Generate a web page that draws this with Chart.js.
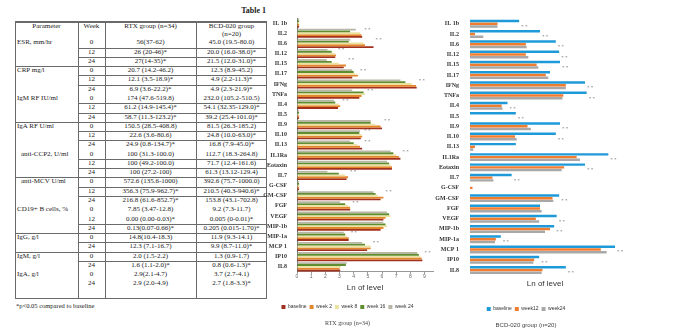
<!DOCTYPE html>
<html>
<head>
<meta charset="utf-8">
<script src="https://cdn.jsdelivr.net/npm/chart.js@4.4.1/dist/chart.umd.min.js"></script>
<style>
body { margin:0; width:684px; height:329px; background:#fff; position:relative; overflow:hidden; font-family:"Liberation Serif", serif; color:#1a1a1a; }
#tblTitle { position:absolute; left:228px; top:6px; width:38px; text-align:right; font-size:8px; font-weight:bold; }
#tbl { position:absolute; left:15px; top:21px; width:252px; height:278px; font-size:7px; }
#tbl .c { position:absolute; white-space:nowrap; text-align:center; }
#tbl .ln { position:absolute; background:#6a6a6a; }
#note { position:absolute; left:16px; top:302px; font-size:6.5px; }
canvas { position:absolute; }
#rtx { left:262px; top:12px; }
#bcd { left:432px; top:12px; }
</style>
</head>
<body>
<div id="tblTitle">Table 1</div>
<div id="tbl"></div>
<div id="note">*p&lt;0.05 compared to baseline</div>
<canvas id="rtx" width="191" height="317"></canvas>
<canvas id="bcd" width="204" height="317"></canvas>
<script>
// table 1
var tableParams = ["ESR, mm/hr","","","CRP mg/l","","","IgM RF IU/ml","","","IgA RF U/ml","","",
  "anti-CCP2, U/ml","","","anti-MCV U/ml","","","CD19+ B cells, %","","","IgG, g/l","","IgM, g/l","","IgA, g/l",""];
var tableWeeks = ["0","12","24","0","12","24","0","12","24","0","12","24","0","12","24","0","12","24","0","12","24","0","24","0","24","0","24"];
var tableRtx = ["56(37-62)","26 (20-46)*","27(14-35)*","20.7 (14.2-46.2)","12.1 (3.5-18.9)*","6.9 (3.6-22.2)*",
  "174 (47.6-519.8)","61.2 (14.9-145.4)*","58.7 (11.3-123.2)*","150.5 (28.5-408.8)","22.6 (3.6-80.6)","24.9 (0.8-134.7)*",
  "100 (31.3-100.0)","100 (49.2-100.0)","100 (27.2-100)","572.6 (135.6-1000)","356.3 (75.9-962.7)*","216.8 (61.6-852.7)*",
  "7.85 (3.47-12.8)","0.00 (0.00-0.03)*","0.13(0.07-0.66)*","14.8(10.4-18.3)","12.3 (7.1-16.7)","2.0 (1.5-2.2)","1.6 (1.1-2.0)*",
  "2.9(2.1-4.7)","2.9 (2.0-4.9)"];
var tableBcd = ["45.0 (19.5-80.0)","20.0 (16.0-38.0)*","21.5 (12.0-31.0)*","12.3 (8.9-45.2)","4.9 (2.2-11.3)*","4.9 (2.3-21.9)*",
  "232.0 (105.2-510.5)","54.1 (32.35-129.0)*","39.2 (25.4-101.0)*","81.5 (26.3-185.2)","24.8 (10.0-63.0)*","16.8 (7.9-45.0)*",
  "112.7 (18.3-264.8)","71.7 (12.4-161.6)","61.3 (13.12-129.4)","392.6 (75.7-1000.0)","210.5 (40.3-940.6)*","153.8 (43.1-702.8)",
  "9.2 (7.3-11.7)","0.005 (0-0.01)*","0.205 (0.015-1.70)*","11.9 (9.3-14.1)","9.9 (8.7-11.0)*","1.3 (0.9-1.7)","0.8 (0.6-1.3)*",
  "3.7 (2.7-4.1)","2.7 (1.8-3.3)*"];

// cytokine charts
var cytokines = ["IL 1b","IL2","IL6","IL12","IL15","IL17","IFNg","TNFa","IL4","IL5","IL9","IL10","IL13","IL1Ra","Eotaxin",
  "IL7","G-CSF","GM-CSF","FGF","VEGF","MIP-1b","MIP-1a","MCP 1","IP10","IL8"];

var rtxBaseline = [0.15,4.6,5.4,2.7,3.3,3.9,8.45,4.4,2.9,0.15,6.0,4.5,4.6,7.3,6.7,3.5,0.15,5.9,3.75,6.1,5.9,3.65,4.95,8.85,3.05];
var rtxWeek2    = [0.15,4.55,4.8,2.75,3.45,4.3,8.4,4.55,3.05,0.15,5.9,4.6,4.45,7.2,6.7,3.6,0.15,6.1,3.75,6.25,6.1,3.65,5.2,8.8,3.0];
var rtxWeek8    = [0.15,4.45,4.7,2.65,2.95,4.1,8.1,4.8,2.95,0.15,5.5,4.55,4.25,7.0,6.6,3.4,0.15,5.7,3.6,6.6,6.35,3.5,5.2,8.7,3.1];
var rtxWeek16   = [0.15,3.75,3.65,2.45,2.45,4.0,7.65,4.7,2.7,0.15,5.2,4.4,4.0,6.8,6.5,2.95,0.15,5.55,3.4,6.5,6.25,3.4,4.8,8.6,3.45];
var rtxWeek24   = [0.15,4.15,3.75,2.15,2.1,3.9,7.3,3.9,2.6,0.15,5.2,4.45,3.75,6.6,6.35,2.15,0.15,5.4,3.05,6.35,6.1,3.3,4.6,8.5,3.5];
var rtxStarRows = [1,2,3,4,5,6,7,8,10,11,12,13,15,17,18,21,22,23];

var bcdBaseline = [2.95,4.2,5.15,5.35,5.4,4.8,6.9,7.0,2.25,2.75,5.4,5.15,2.75,8.3,6.9,2.5,0,5.35,4.2,5.2,5.05,1.85,8.7,4.15,5.75];
var bcdWeek12   = [1.65,0.3,3.35,3.35,4.0,4.55,5.75,5.6,1.9,0,3.45,2.7,0.3,6.4,5.65,1.35,0.15,4.95,4.2,3.95,4.8,1.55,7.85,3.85,4.35];
var bcdWeek24   = [1.65,0.8,3.4,3.5,4.1,4.7,5.75,5.55,1.95,0,3.65,2.8,0.2,6.6,5.5,1.4,0,5.0,4.3,4.15,4.5,1.5,8.2,3.8,4.3];
var bcdStarRows = [0,1,2,3,4,6,7,8,9,10,11,13,14,15,17,19,20,21,22,23,24];

// build the table
var tbl = document.getElementById("tbl");
var colX = [0, 63, 90, 181, 252];
var headH = 17.4, rowH = 9.27;
var fullLines = [3, 9, 15, 21, 23];
var noLines = [0, 6, 12, 18, 19, 25, 26];

function addLine(x, y, w, h) {
  var d = document.createElement("div");
  d.className = "ln";
  d.style.left = x + "px"; d.style.top = y + "px";
  d.style.width = w + "px"; d.style.height = h + "px";
  tbl.appendChild(d);
}
function addText(txt, col, y, h, left) {
  var d = document.createElement("div");
  d.className = "c";
  d.textContent = txt;
  d.style.left = (colX[col] + (left || 0)) + "px";
  d.style.width = (colX[col + 1] - colX[col] - (left || 0)) + "px";
  d.style.top = y + "px";
  d.style.height = h + "px";
  d.style.lineHeight = h + "px";
  if (left) d.style.textAlign = "left";
  tbl.appendChild(d);
}

addText("Parameter", 0, 1, 8);
addText("Week", 1, 1, 8);
addText("RTX group (n=34)", 2, 1, 8);
addText("BCD-020 group", 3, 1, 8);
addText("(n=20)", 3, 9, 8);

for (var i = 0; i < tableWeeks.length; i++) {
  var y = headH + i * rowH;
  var ind = (i == 12 || i == 15) ? 6 : 2;
  if (tableParams[i]) addText(tableParams[i], 0, y, rowH, ind);
  addText(tableWeeks[i], 1, y, rowH);
  addText(tableRtx[i], 2, y, rowH);
  addText(tableBcd[i], 3, y, rowH);
  if (fullLines.indexOf(i) >= 0) addLine(0, y, 252, 1);
  else if (noLines.indexOf(i) < 0) addLine(colX[1], y, 252 - colX[1], 1);
}
addLine(0, 0, 252, 1.5);
addLine(0, 277, 252, 1);
addLine(0, 0, 1, 278);
addLine(251, 0, 1, 278);
addLine(colX[1], 0, 1, 278);
addLine(colX[2], 0, 1, 278);
addLine(colX[3], 0, 1, 278);

// little asterisks after bars
var starPlugin = {
  id: "stars",
  afterDatasetsDraw: function (chart, args, opts) {
    var ctx = chart.ctx;
    ctx.save();
    ctx.font = "5px 'Liberation Serif'";
    ctx.fillStyle = "#666";
    ctx.textBaseline = "middle";
    opts.rows.forEach(function (r) {
      var maxX = 0;
      chart.data.datasets.forEach(function (ds, d) {
        var b = chart.getDatasetMeta(d).data[r];
        if (b.x > maxX) maxX = b.x;
      });
      var yb = chart.getDatasetMeta(opts.yDataset).data[r].y;
      ctx.fillText(opts.mark, maxX + 2, yb);
    });
    ctx.restore();
  }
};

var rtxChart = new Chart("rtx", {
  type: "bar",
  data: {
    labels: cytokines,
    datasets: [
      { label: "week 24", data: rtxWeek24, backgroundColor: "#b8b6a4" },
      { label: "week 16", data: rtxWeek16, backgroundColor: "#5f8e30" },
      { label: "week 8", data: rtxWeek8, backgroundColor: "#ece2a0" },
      { label: "week 2", data: rtxWeek2, backgroundColor: "#e4862c" },
      { label: "baseline", data: rtxBaseline, backgroundColor: "#a2301f" }
    ]
  },
  options: {
    indexAxis: "y",
    responsive: false,
    animation: false,
    layout: { padding: { top: 6, right: 20, left: 0, bottom: 0 } },
    datasets: { bar: { categoryPercentage: 0.9, barPercentage: 1 } },
    scales: {
      x: {
        min: 0, max: 9.6,
        ticks: { stepSize: 1, includeBounds: false, font: { size: 5, family: "Liberation Sans" }, color: "#666", padding: 0 },
        grid: { drawOnChartArea: false, tickLength: 2, color: "#999" },
        border: { color: "#999" },
        title: { display: true, text: "Ln of level", font: { size: 8, family: "Liberation Sans" }, color: "#333", padding: { top: 3.2, bottom: 8.7 } }
      },
      y: {
        afterFit: function (s) { s.width = 35; },
        ticks: { autoSkip: false, font: { size: 6, family: "Liberation Serif", weight: "bold" }, color: "#333", padding: 2 },
        grid: { display: false },
        border: { color: "#666" }
      }
    },
    plugins: {
      legend: { position: "bottom", reverse: true,
        labels: { boxWidth: 4, boxHeight: 4, padding: 3, font: { size: 5, family: "Liberation Sans" }, color: "#333" } },
      title: { display: true, position: "bottom", text: "RTX group (n=34)",
        font: { size: 6, family: "Liberation Serif", weight: "normal" }, color: "#444", padding: { top: 0, bottom: 2.4 } },
      tooltip: { enabled: false },
      stars: { rows: rtxStarRows, mark: "* *", yDataset: 0 }
    }
  },
  plugins: [starPlugin]
});

var bcdChart = new Chart("bcd", {
  type: "bar",
  data: {
    labels: cytokines,
    datasets: [
      { label: "baseline", data: bcdBaseline, backgroundColor: "#1e9ad8" },
      { label: "week12", data: bcdWeek12, backgroundColor: "#f07c30" },
      { label: "week24", data: bcdWeek24, backgroundColor: "#a8a8a8" }
    ]
  },
  options: {
    indexAxis: "y",
    responsive: false,
    animation: false,
    layout: { padding: { top: 6, right: 16, left: 0, bottom: 0 } },
    datasets: { bar: { categoryPercentage: 0.8, barPercentage: 0.9 } },
    scales: {
      x: {
        min: 0, max: 9,
        ticks: { display: false },
        grid: { display: false, drawTicks: false },
        border: { display: false },
        title: { display: true, text: "Ln of level", font: { size: 8, family: "Liberation Sans" }, color: "#333", padding: { top: 4, bottom: 14.7 } }
      },
      y: {
        afterFit: function (s) { s.width = 38; },
        ticks: { autoSkip: false, font: { size: 6, family: "Liberation Serif", weight: "bold" }, color: "#333", padding: 3 },
        grid: { display: false },
        border: { display: false }
      }
    },
    plugins: {
      legend: { position: "bottom",
        labels: { boxWidth: 4, boxHeight: 4, padding: 3, font: { size: 5, family: "Liberation Sans" }, color: "#333" } },
      title: { display: true, position: "bottom", text: "BCD-020 group (n=20)",
        font: { size: 6, family: "Liberation Sans", weight: "normal" }, color: "#444", padding: { top: 0, bottom: 0.4 } },
      tooltip: { enabled: false },
      stars: { rows: bcdStarRows, mark: "* *", yDataset: 2 }
    }
  },
  plugins: [starPlugin]
});
console.log("charts ready " + rtxChart.id + " " + bcdChart.id);
</script>
</body>
</html>
